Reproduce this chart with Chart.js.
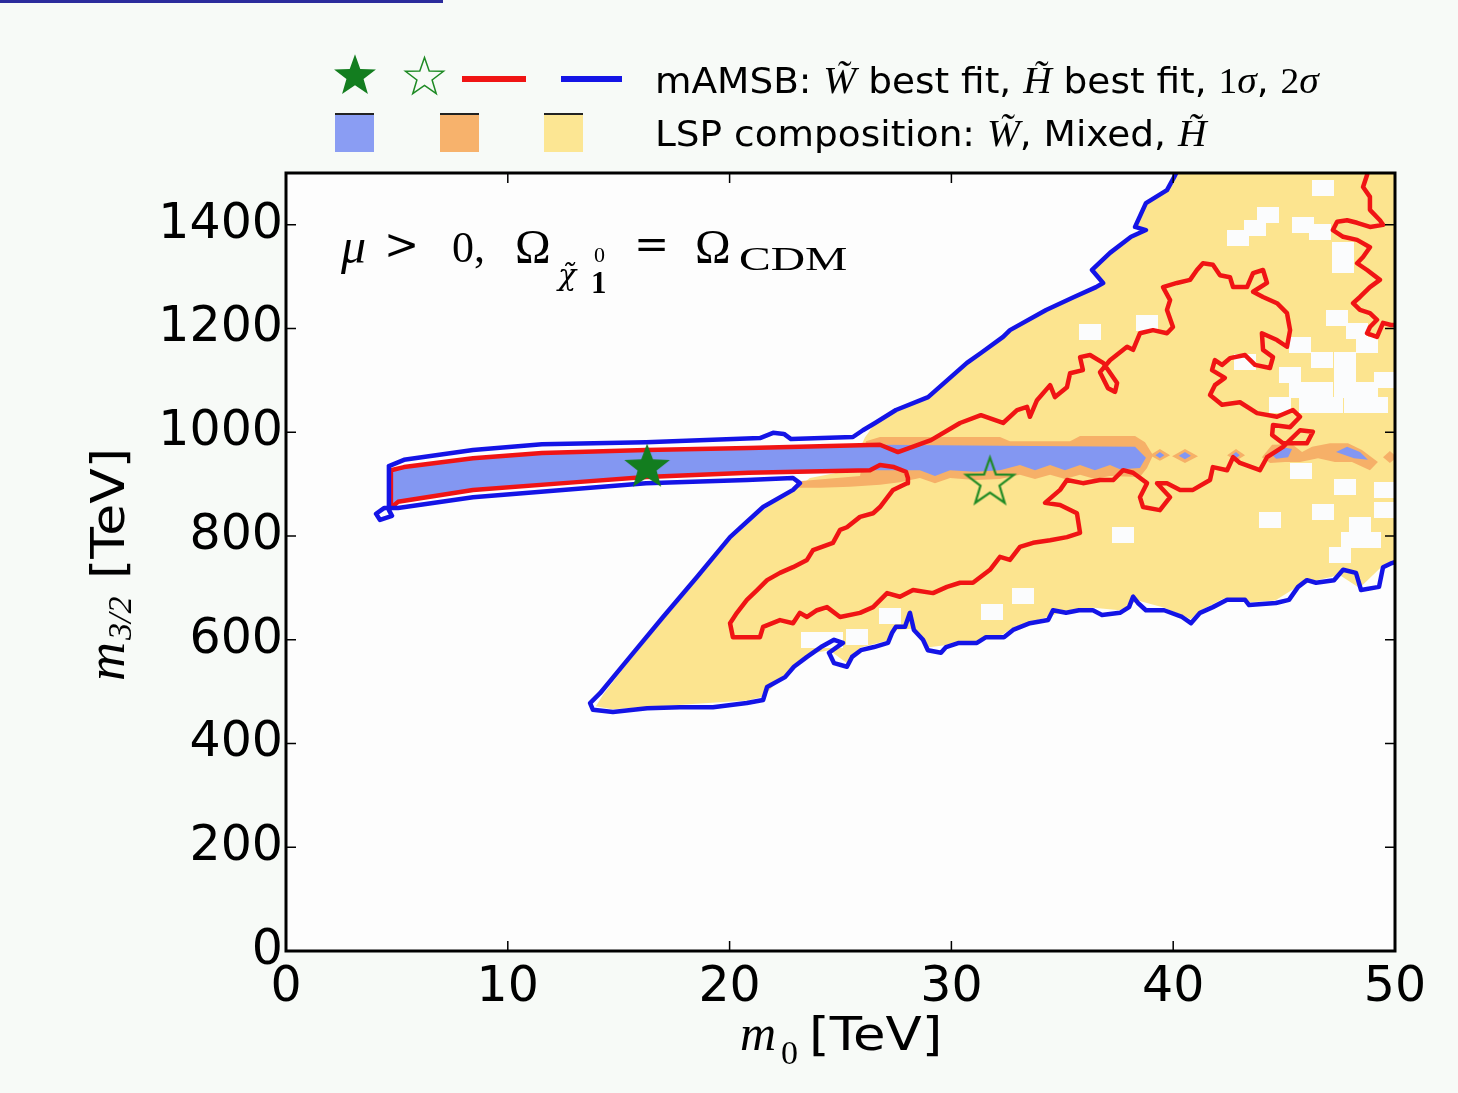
<!DOCTYPE html>
<html><head><meta charset="utf-8">
<script src="https://cdn.jsdelivr.net/npm/chart.js@4.4.1/dist/chart.umd.min.js"></script>
<style>
html,body{margin:0;padding:0;background:#f7faf7;}
#wrap{position:relative;width:1458px;height:1093px;overflow:hidden;background:#f7faf7;}
#c{position:absolute;left:0;top:0;}
.abs{position:absolute;white-space:nowrap;z-index:2;color:#000;}
.ser{font-family:'Liberation Serif','DejaVu Serif',serif;}
.dser{font-family:'DejaVu Serif',serif;}
.san{font-family:'DejaVu Sans',sans-serif;}
.it{font-style:italic;}
.leg{font-family:'DejaVu Sans',sans-serif;font-size:36px;line-height:36px;transform:scaleX(1.04);transform-origin:0 0;}
.leg .m{font-family:'Liberation Serif','DejaVu Serif',serif;font-style:italic;font-size:38px;line-height:36px;}
.leg .r{font-family:'Liberation Serif','DejaVu Serif',serif;font-size:36px;line-height:36px;}
.box{position:absolute;width:39px;height:37px;border-top:2px solid #222;z-index:2;}
</style></head><body>
<div id="wrap">
<canvas id="c" width="1458" height="1093" style="width:1458px;height:1093px"></canvas>
<div class="abs" style="left:0;top:0;width:443px;height:3px;background:#2b2b9c"></div>

<!-- legend row 1 -->
<div class="abs" style="left:462px;top:76px;width:64px;height:6px;background:#f01414"></div>
<div class="abs" style="left:561px;top:76px;width:61px;height:6px;background:#1414e6"></div>
<div class="abs leg" style="left:655px;top:62px">mAMSB: <span class="m">W̃</span> best fit, <span class="m">H̃</span> best fit, <span class="r">1</span><span class="m">σ</span>, <span class="r">2</span><span class="m">σ</span></div>
<!-- legend row 2 -->
<div class="box" style="left:335px;top:113px;background:#8a9df3"></div>
<div class="box" style="left:440px;top:113px;background:#f7b26c"></div>
<div class="box" style="left:544px;top:113px;background:#fce693"></div>
<div class="abs leg" style="left:655px;top:115px">LSP composition: <span class="m">W̃</span>, Mixed, <span class="m">H̃</span></div>

<!-- in-plot title -->
<div class="abs ser it" style="left:341px;top:221px;font-size:50px;line-height:50px">μ</div>
<div class="abs dser" style="left:384px;top:224px;font-size:42px;line-height:42px">&gt;</div>
<div class="abs ser" style="left:452px;top:226px;font-size:44px;line-height:44px">0,</div>
<div class="abs ser" style="left:515px;top:223px;font-size:48px;line-height:48px">Ω</div>
<div class="abs dser it" style="left:558px;top:260px;font-size:30px;line-height:30px">χ̃</div>
<div class="abs ser" style="left:594px;top:244px;font-size:22px;line-height:22px">0</div>
<div class="abs ser" style="left:591px;top:267px;font-size:31px;line-height:31px;font-weight:bold">1</div>
<div class="abs dser" style="left:634px;top:224px;font-size:42px;line-height:42px">=</div>
<div class="abs ser" style="left:695px;top:223px;font-size:48px;line-height:48px">Ω</div>
<div class="abs ser" style="left:739px;top:242px;font-size:34px;line-height:34px;transform:scaleX(1.4);transform-origin:0 0">CDM</div>

<!-- x axis title -->
<div class="abs ser it" style="left:740px;top:1008px;font-size:50px;line-height:50px">m</div>
<div class="abs ser" style="left:781px;top:1036px;font-size:34px;line-height:34px">0</div>
<div class="abs san" style="left:809px;top:1011px;font-size:46px;line-height:46px;transform:scaleX(1.15);transform-origin:0 0">[TeV]</div>

<!-- y axis title (rotated) -->
<div class="abs" style="left:67px;top:681px;width:240px;height:70px;transform-origin:0 0;transform:rotate(-90deg)">
  <div class="abs ser it" style="left:0;top:12px;font-size:54px;line-height:54px">m</div>
  <div class="abs ser it" style="left:41px;top:36px;font-size:34px;line-height:34px">3/2</div>
  <div class="abs san" style="left:102px;top:18px;font-size:46px;line-height:46px;transform:scaleX(1.13);transform-origin:0 0">[TeV]</div>
</div>
</div>

<script>
// ---------------- data (m0 in TeV, m3/2 in TeV) ----------------
const X_TICKS = [0, 10, 20, 30, 40, 50];
const Y_TICKS = [0, 200, 400, 600, 800, 1000, 1200, 1400];

const bestFitW = [16.28, 937];
const bestFitH = [31.74, 908];

const redMain = [
[4.73,927],[5.32,933],[8.43,950],[11.54,960],[16.23,966],[20.87,970],[26.78,976],[27.59,962],[29.08,985],[30.39,1018],[31.33,1033],[32.33,1018],[32.96,1043],[33.41,1049],[33.54,1030],[33.86,1062],[34.45,1091],[34.67,1068],[35.21,1087],[35.35,1114],[35.93,1120],[35.80,1145],[36.25,1149],[36.84,1134],[37.47,1095],[37.38,1078],[37.06,1085],[36.70,1116],[37.15,1139],[37.92,1165],[38.19,1159],[38.50,1191],[39.09,1197],[39.72,1191],[39.99,1203],[39.72,1236],[39.86,1255],[39.54,1280],[40.17,1288],[40.76,1294],[41.07,1313],[41.34,1326],[41.79,1323],[42.11,1303],[42.56,1299],[42.70,1280],[43.33,1280],[43.60,1307],[44.05,1313],[44.23,1288],[43.60,1271],[44.05,1261],[44.68,1249],[45.13,1230],[45.27,1197],[45.13,1165],[44.68,1178],[44.00,1191],[44.05,1159],[44.50,1145],[44.36,1124],[43.69,1130],[43.24,1149],[42.56,1143],[42.20,1130],[41.88,1139],[41.75,1120],[42.33,1105],[41.88,1091],[41.66,1072],[42.20,1053],[43.01,1058],[43.78,1037],[44.68,1030],[45.40,1043],[45.72,1030],[45.27,1010],[44.50,1014],[44.46,995],[44.95,979],[46.03,979],[46.30,1001],[45.72,1004],[44.95,972],[44.23,952],[43.91,927],[43.01,941],[42.70,952],[42.43,927],[41.79,933],[41.66,908],[40.89,889],[40.31,889],[39.72,902],[39.27,902],[39.86,875],[39.40,850],[38.64,856],[38.50,875],[38.82,902],[38.19,922],[37.74,927],[37.29,908],[36.70,908],[35.93,902],[35.21,908],[34.90,889],[34.22,864],[34.90,860],[35.66,844],[35.80,806],[35.21,798],[34.45,792],[33.68,787],[33.09,779],[32.64,754],[32.19,760],[31.74,735],[30.97,710],[30.39,710],[29.80,702],[29.17,690],[28.27,696],[27.68,683],[27.10,690],[26.47,663],[25.88,652],[24.98,644],[24.39,663],[23.94,657],[23.49,644],[23.17,652],[22.86,632],[22.27,638],[21.51,625],[21.37,605],[20.15,605],[20.02,632],[20.33,652],[20.78,677],[21.24,696],[21.69,715],[22.27,729],[22.86,740],[23.49,754],[23.76,773],[24.66,787],[24.98,812],[25.29,817],[25.88,837],[26.47,844],[26.78,856],[27.37,889],[28.00,902],[28.04,912],[27.95,924],[27.41,933],[26.78,937],[26.33,927],[20.87,922],[16.23,914],[13.12,904],[8.43,889],[5.05,866],[4.73,854],[4.73,927]
];

const redTopRight = [
[48.80,1510],[48.74,1496],[48.56,1473],[48.87,1454],[48.87,1429],[49.32,1409],[49.46,1400],[48.87,1396],[48.29,1404],[47.84,1409],[47.39,1406],[47.20,1390],[47.66,1377],[48.29,1371],[48.87,1357],[48.56,1338],[48.29,1326],[48.74,1313],[49.32,1294],[48.87,1280],[48.42,1261],[48.11,1249],[48.42,1236],[48.87,1230],[49.19,1217],[48.87,1203],[48.74,1191],[49.19,1184],[49.46,1211],[49.82,1207],[50.30,1207]
];

const blueMain = [
[4.64,935],[5.32,947],[8.43,966],[11.54,977],[16.23,981],[21.37,989],[21.96,999],[22.45,997],[22.77,987],[25.56,991],[26.01,1004],[26.56,1018],[27.50,1043],[28.95,1068],[30.70,1134],[31.33,1153],[32.33,1184],[32.64,1197],[34.27,1236],[35.53,1261],[36.52,1280],[36.84,1288],[36.34,1313],[37.15,1346],[38.10,1377],[38.77,1390],[38.28,1396],[38.77,1442],[39.72,1467],[40.04,1492],[40.31,1515],[52,1515],[52,754],[50.30,754],
[49.86,748],[49.46,740],[49.28,702],[48.47,696],[48.24,729],[47.66,735],[47.25,715],[46.44,710],[46.03,715],[45.63,702],[45.22,677],[44.63,671],[43.42,667],[43.24,677],[42.43,677],[41.79,663],[41.21,652],[40.80,632],[40.40,644],[39.59,657],[38.77,657],[38.41,671],[38.19,683],[38.01,663],[37.60,652],[36.79,648],[36.38,657],[35.75,657],[35.17,652],[34.58,657],[34.36,638],[33.54,632],[32.78,619],[32.37,605],[31.56,605],[31.15,594],[30.34,594],[29.76,586],[29.53,575],[28.94,580],[28.72,600],[28.31,619],[28.13,652],[27.91,625],[27.50,625],[27.32,613],[27.14,594],[26.51,586],[25.92,580],[25.52,567],[25.29,548],[24.71,555],[24.48,575],[25.11,594],[24.71,600],[24.12,586],[23.49,567],[22.90,548],[22.50,528],[21.69,509],[21.51,484],[20.78,478],[19.25,470],[17.76,470],[16.28,468],[14.74,461],[13.84,465],[13.71,478],[14.16,497],[15.51,567],[17.00,644],[18.53,721],[20.02,798],[21.51,856],[22.86,889],[23.17,902],[22.86,912],[20.78,908],[16.23,902],[8.43,875],[5.05,854],[4.42,854],[4.06,843],[4.24,831],[4.78,839],[4.64,850],[4.64,935]
];

const higgsinoRegion = [
[13.97,472],[14.34,497],[15.51,561],[17.00,638],[18.53,715],[20.02,792],[21.51,850],[23.17,897],[23.62,912],[25.43,927],[26.10,990],[26.56,1018],[27.50,1043],[28.95,1068],[30.70,1134],[31.33,1153],[32.33,1184],[32.64,1197],[34.27,1236],[35.53,1261],[36.52,1280],[36.84,1288],[36.34,1313],[37.15,1346],[38.10,1377],[38.77,1390],[38.28,1396],[38.77,1442],[39.72,1467],[40.04,1492],[40.20,1500],[50,1500],[50,748],[49.5,745],[48.4,700],[47.5,725],[46.2,712],[45.5,700],[44.6,676],[43.3,672],[42.3,680],[41.2,656],[40.8,640],[39.6,662],[38.4,676],[37.6,657],[36.4,662],[35.2,657],[34.4,645],[32.8,624],[32.3,610],[31.2,598],[29.8,590],[28.9,585],[28.3,622],[27.3,618],[27.1,598],[25.9,585],[25.3,555],[24.5,580],[23.5,572],[22.5,533],[21.5,490],[20.8,483],[17.8,475],[14.7,466]
];

const winoBand = [
[4.73,927],[5.32,933],[8.43,950],[11.54,960],[16.23,966],[20.87,970],[26.78,976],[32.19,974],[38.28,972],[38.77,951],[38.50,931],[37.60,929],[37.15,937],[36.47,927],[35.80,937],[35.12,927],[34.45,937],[33.77,927],[33.09,937],[32.19,927],[31.06,924],[29.94,927],[29.26,916],[28.58,927],[26.78,927],[26.33,927],[20.87,922],[16.23,914],[13.12,904],[8.43,889],[5.05,866],[4.73,854]
];

const mixedBand = [
[23.10,893],[23.25,906],[25.88,916],[26.15,983],[26.78,991],[32.19,991],[32.64,983],[35.35,983],[35.80,993],[38.28,993],[38.73,981],[39.09,956],[38.82,931],[38.50,914],[37.15,916],[36.47,910],[35.80,918],[35.12,910],[34.45,918],[33.77,910],[33.09,918],[32.19,910],[31.06,908],[29.94,912],[29.26,902],[28.58,912],[27.68,904],[26.78,899],[25.43,895],[24.08,893]
];

const mixedPatches = [
[[38.95,956],[39.40,968],[39.86,956],[39.40,945]],
[[39.95,954],[40.53,968],[41.12,954],[40.53,941]],
[[42.43,956],[42.83,968],[43.24,956],[42.83,945]],
[[44.00,952],[44.46,976],[45.36,977],[45.81,962],[46.26,972],[47.07,979],[47.88,979],[48.51,966],[49.23,943],[48.87,927],[48.06,943],[47.29,943],[46.53,950],[45.72,943],[45.04,943],[44.37,941]],
[[49.46,952],[49.77,964],[50.09,952],[49.77,941]]
];

const winoPatches = [
[[44.37,960],[44.82,972],[45.36,968],[45.18,952],[44.64,949]],
[[47.34,962],[47.84,972],[48.42,962],[48.78,947],[48.15,950]],
[[39.20,956],[39.40,962],[39.60,956],[39.40,950]],
[[40.25,955],[40.53,962],[40.80,955],[40.53,948]],
[[42.65,956],[42.83,962],[43.00,956],[42.83,950]]
];

const gapCells = [
[36.25,1193],[38.82,1211],[47.39,1220],[45.76,925],[47.75,895],[44.36,831],[46.75,846],[37.74,802],[43.24,1136],[46.75,1471],[44.27,1419],[42.92,1375],[43.69,1394],[45.85,1400],[46.62,1386],[47.66,1352],[47.66,1323],[48.29,1195],[48.42,821],[48.06,792],[47.52,763],[48.87,792],[49.55,850],[33.23,684],[31.83,654],[27.23,646],[23.72,600],[24.62,600],[25.74,605],[45.72,1168],[46.71,1139],[47.75,1139],[45.72,1082],[46.71,1082],[47.75,1082],[48.74,1082],[44.82,1053],[46.17,1053],[47.16,1053],[48.20,1053],[49.19,1053],[47.75,1111],[48.74,1168],[49.55,1101],[45.27,1111],[49.55,889]
];

// ---------------- styles ----------------
const COL = { red:'#f01414', blue:'#1414e6', wino:'#8397f2', mixed:'#f6b068', higgsino:'#fce48f', gap:'#fbfcfd', green:'#137d1f', plot:'#fdfdfd' };

function starCanvas(R, r, fill, stroke, lw) {
  const s = Math.ceil(2 * R + 2 * lw + 4);
  const c = document.createElement('canvas');
  c.width = s; c.height = s;
  const g = c.getContext('2d');
  g.translate(s / 2, s / 2 + R * 0.1);
  g.beginPath();
  for (let i = 0; i < 10; i++) {
    const a = -Math.PI / 2 + i * Math.PI / 5;
    const rad = i % 2 ? r : R;
    g.lineTo(rad * Math.cos(a), rad * Math.sin(a));
  }
  g.closePath();
  if (fill) { g.fillStyle = fill; g.fill(); }
  if (stroke) { g.lineJoin = 'miter'; g.lineWidth = lw; g.strokeStyle = stroke; g.stroke(); }
  return c;
}
function cellCanvas() {
  const c = document.createElement('canvas');
  c.width = 22; c.height = 16;
  const g = c.getContext('2d');
  g.fillStyle = COL.gap; g.fillRect(0, 0, 22, 16);
  return c;
}

function placeCanvas(cv, cx, cy) {
  cv.style.position = 'absolute';
  cv.style.left = (cx - cv.width / 2) + 'px';
  cv.style.top = (cy - cv.height / 2) + 'px';
  cv.style.zIndex = 2;
  document.getElementById('wrap').appendChild(cv);
}
placeCanvas(starCanvas(22, 9, COL.green, null, 0), 355, 74);
placeCanvas(starCanvas(20, 8, null, '#1e8a24', 1.5), 424, 75);

const pts = arr => arr.map(([x, y]) => ({ x, y }));
const fillDs = (arr, color, order) => ({ data: pts(arr), borderColor: 'rgba(0,0,0,0)', borderWidth: 1, backgroundColor: color, fill: 'shape', pointRadius: 0, tension: 0, order });
const lineDs = (arr, color, order) => ({ data: pts(arr), borderColor: color, borderWidth: 4.5, borderJoinStyle: 'round', borderCapStyle: 'round', fill: false, pointRadius: 0, tension: 0, order });

const datasets = [
  fillDs(higgsinoRegion, COL.higgsino, 20),
  { data: pts(gapCells), showLine: false, pointStyle: cellCanvas(), pointRadius: 6, fill: false, order: 19 },
  fillDs(mixedBand, COL.mixed, 18),
  ...mixedPatches.map(p => fillDs(p, COL.mixed, 17)),
  fillDs(winoBand, COL.wino, 16),
  ...winoPatches.map(p => fillDs(p, COL.wino, 15)),
  lineDs(redMain, COL.red, 4),
  lineDs(redTopRight, COL.red, 4),
  lineDs(blueMain, COL.blue, 3),
  { data: pts([bestFitW]), showLine: false, pointStyle: starCanvas(24, 10, COL.green, null, 0), pointRadius: 10, order: 1 },
  { data: pts([bestFitH]), showLine: false, pointStyle: starCanvas(25, 10, null, '#1e8a24', 2.2), pointRadius: 10, order: 1 }
];

const framePlugin = {
  id: 'frame',
  beforeDatasetsDraw(chart) {
    const { ctx, chartArea: a } = chart;
    ctx.save(); ctx.fillStyle = COL.plot;
    ctx.fillRect(a.left, a.top, a.right - a.left, a.bottom - a.top);
    ctx.restore();
  },
  afterDraw(chart) {
    const { ctx, chartArea: a, scales: { x, y } } = chart;
    ctx.save();
    ctx.strokeStyle = '#000'; ctx.lineWidth = 1.5;
    ctx.beginPath();
    x.ticks.forEach(t => {
      if (t.value === x.min || t.value === x.max) return;
      const p = x.getPixelForValue(t.value);
      ctx.moveTo(p, a.bottom); ctx.lineTo(p, a.bottom - 10);
      ctx.moveTo(p, a.top); ctx.lineTo(p, a.top + 10);
    });
    y.ticks.forEach(t => {
      if (t.value === y.min || t.value === y.max) return;
      const p = y.getPixelForValue(t.value);
      ctx.moveTo(a.left, p); ctx.lineTo(a.left + 10, p);
      ctx.moveTo(a.right, p); ctx.lineTo(a.right - 10, p);
    });
    ctx.stroke();
    ctx.lineWidth = 3;
    ctx.strokeRect(a.left, a.top, a.right - a.left, a.bottom - a.top);
    ctx.restore();
  }
};

const tickFont = { family: "'DejaVu Sans', sans-serif", size: 49 };

new Chart(document.getElementById('c'), {
  type: 'line',
  data: { datasets },
  options: {
    responsive: false,
    animation: false,
    events: [],
    layout: { padding: { left: 0, right: 63, top: 173, bottom: 0 } },
    plugins: { legend: { display: false }, tooltip: { enabled: false } },
    scales: {
      x: {
        type: 'linear', position: 'bottom', min: 0, max: 50,
        afterBuildTicks: s => { s.ticks = X_TICKS.map(v => ({ value: v })); },
        afterFit: s => { s.height = 142; },
        grid: { display: false, drawTicks: false }, border: { display: false },
        ticks: { color: '#000', font: tickFont, padding: 8, maxRotation: 0, autoSkip: false, callback: v => String(v) }
      },
      y: {
        type: 'linear', position: 'left', min: 0, max: 1500,
        afterBuildTicks: s => { s.ticks = Y_TICKS.map(v => ({ value: v })); },
        afterFit: s => { s.width = 286; },
        grid: { display: false, drawTicks: false }, border: { display: false },
        ticks: { color: '#000', font: tickFont, padding: 3, autoSkip: false, callback: v => String(v) }
      }
    }
  },
  plugins: [framePlugin]
});
</script>
</body></html>
